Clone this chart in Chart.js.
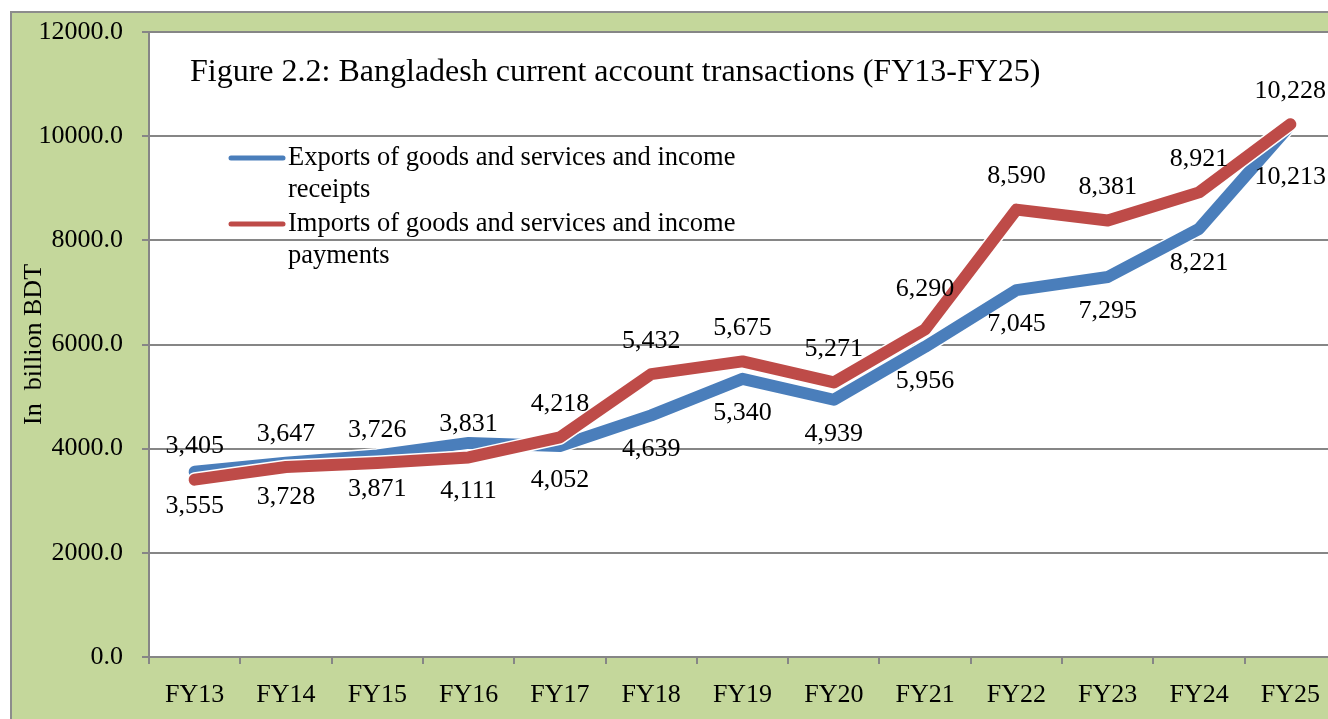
<!DOCTYPE html>
<html>
<head>
<meta charset="utf-8">
<script src="https://cdn.jsdelivr.net/npm/chart.js@4/dist/chart.umd.min.js"></script>
<style>
    html, body { margin: 0; padding: 0; background: #fff; overflow: hidden; }
    canvas { display: block; }
</style>
</head>
<body>
<canvas id="chartCuenta" width="1336" height="719"></canvas>
<script>
// ============================================
// Datos (billion BDT)
// ============================================
const years = ['FY13', 'FY14', 'FY15', 'FY16', 'FY17', 'FY18', 'FY19', 'FY20', 'FY21', 'FY22', 'FY23', 'FY24', 'FY25'];
const exportsVals = [3555, 3728, 3871, 4111, 4052, 4639, 5340, 4939, 5956, 7045, 7295, 8221, 10213];
const importsVals = [3405, 3647, 3726, 3831, 4218, 5432, 5675, 5271, 6290, 8590, 8381, 8921, 10228];
const yTickValues = [0, 2000, 4000, 6000, 8000, 10000, 12000];

const exportsLabel = 'Exports of goods and services and income receipts';
const importsLabel = 'Imports of goods and services and income payments';
const chartTitle = 'Figure 2.2: Bangladesh current account transactions (FY13-FY25)';
const yTitle = 'In  billion BDT';

// estilo
const FONT = "'Liberation Serif', 'Times New Roman', serif";
const GRIS = '#868686';
const VERDE = '#C4D79B';
const AZUL = '#4A7EBB';
const ROJO = '#BE4B48';

// ajuste vertical extra de etiquetas (Excel las movio para que no se tapen)
const nudgeExports = [0, 0, 0, 14, 0, 0, 0, 0, 0, 0, 0, 0, 18];
const nudgeImports = [0, 0, 0, 0, 0, 0, 0, 0, -7, 0, 0, 0, 0];

const fondoPlugin = {
    id: 'fondo',
    beforeDraw(chart) {
        const ctx = chart.ctx;
        const a = chart.chartArea;
        ctx.save();
        ctx.fillStyle = VERDE;
        ctx.fillRect(11, 12, chart.width, chart.height);
        ctx.strokeStyle = '#8c8c8c';
        ctx.lineWidth = 2;
        ctx.beginPath();
        ctx.moveTo(11, chart.height);
        ctx.lineTo(11, 12);
        ctx.lineTo(chart.width, 12);
        ctx.stroke();
        ctx.fillStyle = '#fff';
        ctx.fillRect(a.left, a.top, a.right - a.left, a.bottom - a.top);
        ctx.restore();
    },
    // borde blanco fino debajo de cada linea
    beforeDatasetDraw(chart, args) {
        const ctx = chart.ctx;
        const pts = args.meta.data;
        ctx.save();
        ctx.strokeStyle = '#fff';
        ctx.lineWidth = 15;
        ctx.lineCap = 'round';
        ctx.lineJoin = 'round';
        ctx.beginPath();
        pts.forEach((p, i) => i ? ctx.lineTo(p.x, p.y) : ctx.moveTo(p.x, p.y));
        ctx.stroke();
        ctx.restore();
    }
};

const etiquetasPlugin = {
    id: 'etiquetas',
    afterDatasetsDraw(chart) {
        const ctx = chart.ctx;
        ctx.save();
        ctx.font = '26px ' + FONT;
        ctx.fillStyle = '#000';
        ctx.textAlign = 'center';
        ctx.textBaseline = 'middle';
        chart.data.datasets.forEach((ds, i) => {
            const meta = chart.getDatasetMeta(i);
            const arriba = ds.label === importsLabel;
            const nudge = arriba ? nudgeImports : nudgeExports;
            meta.data.forEach((p, j) => {
                const dy = (arriba ? -33 : 34) + nudge[j];
                ctx.fillText(ds.data[j].toLocaleString('en-US'), p.x, p.y + dy);
            });
        });
        ctx.restore();
    }
};

const tituloLeyendaPlugin = {
    id: 'tituloLeyenda',
    afterDraw(chart) {
        const ctx = chart.ctx;
        ctx.save();
        ctx.fillStyle = '#000';
        ctx.textBaseline = 'middle';
        ctx.textAlign = 'left';
        ctx.font = '32px ' + FONT;
        ctx.fillText(chartTitle, 190, 73);

        // leyenda
        ctx.font = '26.5px ' + FONT;
        let y = 158;
        chart.data.datasets.slice().reverse().forEach(ds => {
            ctx.strokeStyle = ds.borderColor;
            ctx.lineWidth = 5;
            ctx.lineCap = 'round';
            ctx.beginPath();
            ctx.moveTo(231, y);
            ctx.lineTo(283, y);
            ctx.stroke();
            // partir el texto en lineas
            const words = ds.label.split(' ');
            let line = '';
            const lines = [];
            words.forEach(w => {
                const test = line ? line + ' ' + w : w;
                if (ctx.measureText(test).width > 470 && line) {
                    lines.push(line);
                    line = w;
                } else {
                    line = test;
                }
            });
            lines.push(line);
            lines.forEach((l, k) => ctx.fillText(l, 288, y + k * 32.5));
            y += lines.length * 33;
        });
        ctx.restore();
    }
};

new Chart(document.getElementById('chartCuenta'), {
    type: 'line',
    data: {
        labels: years,
        datasets: [
            {
                label: importsLabel,
                data: importsVals,
                borderColor: ROJO,
                backgroundColor: ROJO,
                borderWidth: 12,
                borderCapStyle: 'round',
                borderJoinStyle: 'round',
                pointRadius: 0,
                tension: 0,
                order: 0
            },
            {
                label: exportsLabel,
                data: exportsVals,
                borderColor: AZUL,
                backgroundColor: AZUL,
                borderWidth: 12,
                borderCapStyle: 'round',
                borderJoinStyle: 'round',
                pointRadius: 0,
                tension: 0,
                order: 1
            }
        ]
    },
    options: {
        responsive: false,
        animation: false,
        devicePixelRatio: 1,
        layout: {
            padding: { left: 10, top: 32, right: 0, bottom: 0 }
        },
        plugins: {
            legend: { display: false },
            tooltip: { enabled: false }
        },
        scales: {
            x: {
                type: 'category',
                offset: true,
                afterFit: (s) => { s.height = 62; },
                grid: {
                    offset: true,
                    drawOnChartArea: false,
                    drawTicks: true,
                    tickLength: 7,
                    color: GRIS,
                    lineWidth: 2
                },
                border: { display: true, color: GRIS, width: 2 },
                ticks: {
                    font: { family: FONT, size: 26 },
                    color: '#000',
                    padding: 16,
                    maxRotation: 0,
                    autoSkip: false
                }
            },
            y: {
                min: 0,
                max: 12000,
                afterFit: (s) => {
                    s.width = 139;
                    s.paddingTop = 0;
                    s.paddingBottom = 0;
                },
                afterBuildTicks: (s) => { s.ticks = yTickValues.map(v => ({ value: v })); },
                grid: {
                    color: GRIS,
                    lineWidth: 2,
                    drawTicks: true,
                    tickLength: 7
                },
                border: { display: true, color: GRIS, width: 2 },
                ticks: {
                    font: { family: FONT, size: 26 },
                    color: '#000',
                    padding: 19,
                    callback: (v) => Number(v).toFixed(1)
                },
                title: {
                    display: true,
                    text: yTitle,
                    font: { family: FONT, size: 26 },
                    color: '#000',
                    padding: { top: 9, bottom: 0 }
                }
            }
        }
    },
    plugins: [fondoPlugin, etiquetasPlugin, tituloLeyendaPlugin]
});
</script>
</body>
</html>
